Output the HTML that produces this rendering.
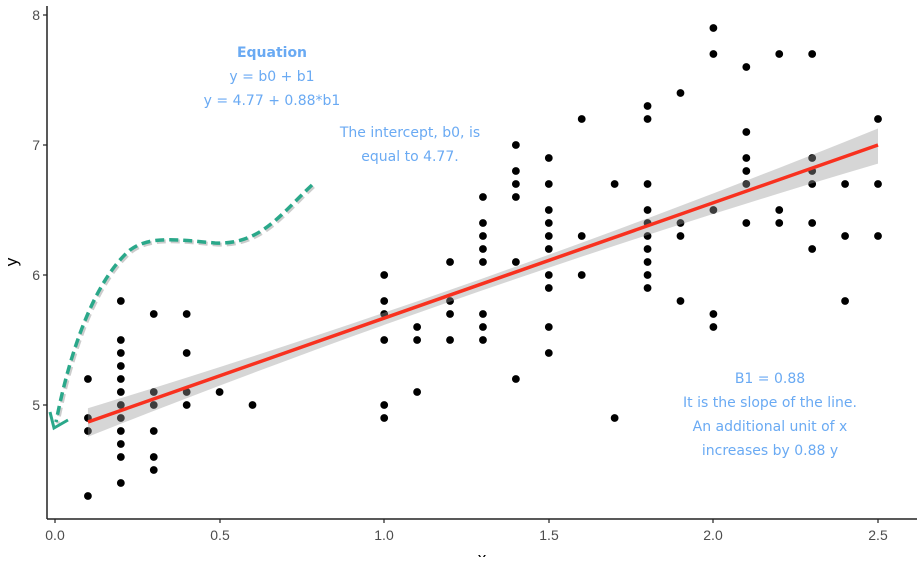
<!DOCTYPE html>
<html><head><style>body{margin:0;background:#fff}</style></head><body>
<svg id="svg" width="924" height="557" xmlns="http://www.w3.org/2000/svg" font-family="Liberation Sans, sans-serif">
<g id="pts" fill="#000"></g>
<polygon id="band" fill="#999" fill-opacity="0.4"/>
<line x1="88" y1="422" x2="878" y2="145" stroke="#f8311f" stroke-width="3.5"/>
<line x1="47" y1="6" x2="47" y2="519" stroke="#222" stroke-width="1.5"/>
<line x1="47" y1="519" x2="917" y2="519" stroke="#222" stroke-width="1.5"/>
<g stroke="#222" stroke-width="1.2">
<line x1="43" y1="15" x2="47" y2="15"/><line x1="43" y1="145" x2="47" y2="145"/><line x1="43" y1="275" x2="47" y2="275"/><line x1="43" y1="405" x2="47" y2="405"/>
<line x1="55" y1="519" x2="55" y2="523"/><line x1="220" y1="519" x2="220" y2="523"/><line x1="384" y1="519" x2="384" y2="523"/><line x1="549" y1="519" x2="549" y2="523"/><line x1="713" y1="519" x2="713" y2="523"/><line x1="878" y1="519" x2="878" y2="523"/>
</g>
<g fill="#4d4d4d" font-size="14" text-anchor="end">
<text x="40" y="20">8</text><text x="40" y="150">7</text><text x="40" y="280">6</text><text x="40" y="410">5</text>
</g>
<g fill="#4d4d4d" font-size="14" text-anchor="middle">
<text x="55" y="540">0.0</text><text x="220" y="540">0.5</text><text x="384" y="540">1.0</text><text x="549" y="540">1.5</text><text x="713" y="540">2.0</text><text x="878" y="540">2.5</text>
</g>
<text x="482" y="564" font-size="17" text-anchor="middle">x</text>
<text transform="translate(17,262) rotate(-90)" font-size="17" text-anchor="middle">y</text>
<g fill="#6aaaf3" font-family="DejaVu Sans, sans-serif" font-size="14" text-anchor="middle">
<text x="272" y="57" font-weight="bold">Equation</text>
<text x="272" y="81">y = b0 + b1</text>
<text x="272" y="105">y = 4.77 + 0.88*b1</text>
<text x="410" y="137">The intercept, b0, is</text>
<text x="410" y="161">equal to 4.77.</text>
<text x="770" y="383">B1 = 0.88</text>
<text x="770" y="407">It is the slope of the line.</text>
<text x="770" y="431">An additional unit of x</text>
<text x="770" y="455">increases by 0.88 y</text>
</g>
<path d="M312,185 C280,215 260,245 215,243 C180,240 150,235 130,250 C95,280 70,350 56,422" fill="none" stroke="#999" stroke-opacity="0.5" stroke-width="4" stroke-dasharray="9,5" transform="translate(1.5,1.5)"/>
<path d="M312,185 C280,215 260,245 215,243 C180,240 150,235 130,250 C95,280 70,350 56,422" fill="none" stroke="#2aa88a" stroke-width="3.5" stroke-dasharray="9,5"/>
<path d="M50,412 L54,428 L68,420" fill="none" stroke="#2aa88a" stroke-width="3"/>
<script>
var d={0.1:[5.2,4.9,4.8,4.3],0.2:[5.8,5.5,5.4,5.3,5.2,5.1,5.0,4.9,4.8,4.7,4.6,4.4],0.3:[5.7,5.1,5.0,4.8,4.6,4.5],0.4:[5.7,5.4,5.1,5.0],0.5:[5.1],0.6:[5.0],
1.0:[6.0,5.8,5.7,5.5,5.0,4.9],1.1:[5.6,5.5,5.1],1.2:[6.1,5.8,5.7,5.5],1.3:[6.6,6.4,6.3,6.2,6.1,5.7,5.6,5.5],1.4:[7.0,6.8,6.7,6.6,6.1,5.2],
1.5:[6.9,6.7,6.5,6.4,6.3,6.2,6.0,5.9,5.6,5.4],1.6:[7.2,6.3,6.0],1.7:[6.7,4.9],1.8:[7.3,7.2,6.7,6.5,6.4,6.3,6.2,6.1,6.0,5.9],1.9:[7.4,6.4,6.3,5.8],
2.0:[7.9,7.7,6.5,5.7,5.6],2.1:[7.6,7.1,6.9,6.8,6.7,6.4],2.2:[7.7,6.5,6.4],2.3:[7.7,6.9,6.8,6.7,6.4,6.2],2.4:[6.7,6.3,5.8],2.5:[7.2,6.7,6.3]};
function X(x){return 55+329.2*x}function Y(y){return 405-130*(y-5)}
var NS="http://www.w3.org/2000/svg",g=document.getElementById('pts');
for(var k in d){d[k].forEach(function(v){var c=document.createElementNS(NS,'circle');c.setAttribute('cx',X(+k));c.setAttribute('cy',Y(v));c.setAttribute('r','3.9');g.appendChild(c);});}
var up=[],lo=[];
for(var i=0;i<=24;i++){var x=0.1+i*0.1,m=4.777+0.886*x,w=0.045+0.09*Math.pow((x-1.2)/1.3,2);
up.push(X(x)+','+Y(m+w));lo.unshift(X(x)+','+Y(m-w));}
document.getElementById('band').setAttribute('points',up.concat(lo).join(' '));
</script>
</svg>
</body></html>
